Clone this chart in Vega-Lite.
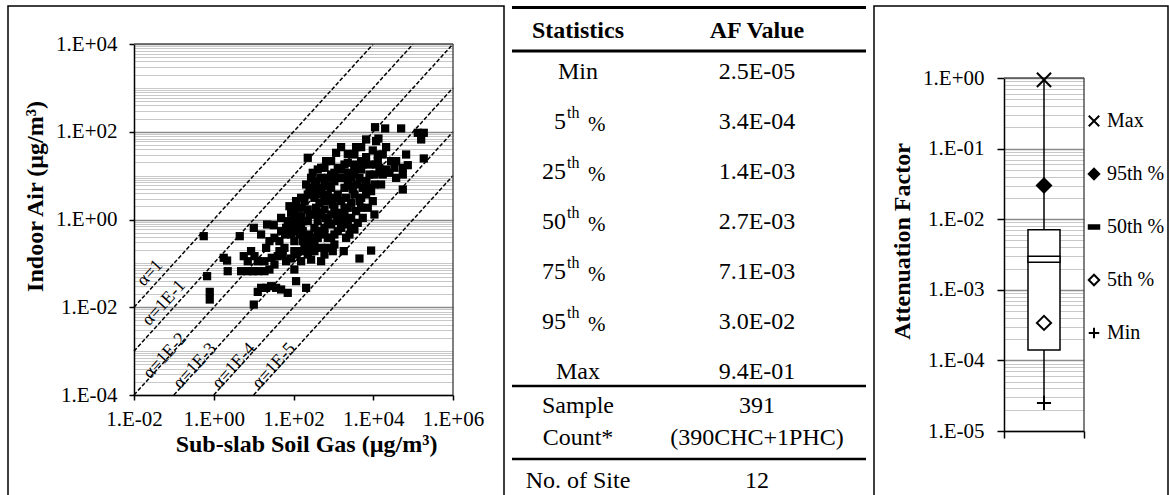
{
  "$schema": "https://vega.github.io/schema/vega-lite/v6.json",
  "padding": {"left": 7, "top": 5, "right": 0, "bottom": 0},
  "autosize": {"type": "pad"},
  "spacing": 5,
  "background": "white",
  "config": {
    "view": {"stroke": null},
    "font": "Liberation Serif",
    "axis": {
      "labelFont": "Liberation Serif", "titleFont": "Liberation Serif",
      "labelColor": "black", "titleColor": "black", "domainColor": "black", "tickColor": "black",
      "labelFontSize": 21, "titleFontSize": 24, "titleFontWeight": "bold",
      "domainWidth": 1.5, "tickWidth": 1.5, "labelOverlap": false, "labelFlush": false
    },
    "legend": {"labelFont": "Liberation Serif", "labelFontSize": 20, "labelColor": "black", "titleFont": "Liberation Serif"},
    "text": {"font": "Liberation Serif", "color": "black"}
  },
  "datasets": {
    "scatter": [
      {"soil":11100,"indoor":127},{"soil":19900,"indoor":119},{"soil":50000,"indoor":119},{"soil":131000,"indoor":94.6},{"soil":185000,"indoor":94.6},{"soil":159000,"indoor":66.7},{"soil":185000,"indoor":24.6},{"soil":13500,"indoor":70.1},{"soil":11800,"indoor":61.1},{"soil":6620,"indoor":66.7},
      {"soil":3720,"indoor":44.6},{"soil":1560,"indoor":44.6},{"soil":2300,"indoor":31.4},{"soil":9730,"indoor":37.4},{"soil":66700,"indoor":30.3},{"soil":73500,"indoor":17.3},{"soil":55100,"indoor":15.1},{"soil":55100,"indoor":10.6},{"soil":34000,"indoor":15.1},{"soil":21000,"indoor":13.8},
      {"soil":17300,"indoor":10.6},{"soil":10700,"indoor":10.6},{"soil":6620,"indoor":26.4},{"soil":4970,"indoor":21.4},{"soil":3370,"indoor":17.9},{"soil":2300,"indoor":19.6},{"soil":1170,"indoor":33.1},{"soil":877,"indoor":21.4},{"soil":597,"indoor":15.1},{"soil":492,"indoor":8.91},
      {"soil":406,"indoor":4.83},{"soil":228,"indoor":25.5},{"soil":207,"indoor":6.28},{"soil":251,"indoor":5.27},{"soil":335,"indoor":3.12},{"soil":448,"indoor":2.4},{"soil":724,"indoor":8.91},{"soil":1060,"indoor":7.48},{"soil":1560,"indoor":8.91},{"soil":1900,"indoor":5.27},
      {"soil":2790,"indoor":5.75},{"soil":4510,"indoor":8.91},{"soil":5460,"indoor":5.27},{"soil":8830,"indoor":4.43},{"soil":9730,"indoor":2.62},{"soil":7290,"indoor":1.85},{"soil":55100,"indoor":4.83},{"soil":10700,"indoor":1.3},{"soil":5460,"indoor":1.09},{"soil":4090,"indoor":0.839},
      {"soil":3370,"indoor":0.592},{"soil":2530,"indoor":0.455},{"soil":1820,"indoor":0.19},{"soil":4510,"indoor":0.129},{"soil":8830,"indoor":0.196},{"soil":2300,"indoor":1.85},{"soil":1560,"indoor":2.62},{"soil":1060,"indoor":3.12},{"soil":724,"indoor":3.72},{"soil":597,"indoor":1.69},
      {"soil":877,"indoor":1.3},{"soil":1290,"indoor":0.916},{"soil":1900,"indoor":0.916},{"soil":1290,"indoor":0.542},{"soil":877,"indoor":0.382},{"soil":597,"indoor":0.646},{"soil":406,"indoor":0.916},{"soil":304,"indoor":1.3},{"soil":228,"indoor":1.69},{"soil":155,"indoor":1.85},
      {"soil":105,"indoor":1.3},{"soil":87.1,"indoor":0.916},{"soil":79.1,"indoor":2.01},{"soil":128,"indoor":0.769},{"soil":171,"indoor":0.542},{"soil":251,"indoor":0.455},{"soil":406,"indoor":0.382},{"soil":492,"indoor":0.226},{"soil":335,"indoor":0.19},{"soil":228,"indoor":0.159},
      {"soil":155,"indoor":0.19},{"soil":105,"indoor":0.321},{"soil":87.1,"indoor":0.455},{"soil":116,"indoor":0.159},{"soil":155,"indoor":0.112},{"soil":276,"indoor":0.122},{"soil":597,"indoor":0.159},{"soil":724,"indoor":0.226},{"soil":1060,"indoor":0.269},{"soil":966,"indoor":0.19},
      {"soil":492,"indoor":0.112},{"soil":105,"indoor":0.0724},{"soil":116,"indoor":0.0393},{"soil":207,"indoor":0.0277},{"soil":71.8,"indoor":0.0213},{"soil":48.9,"indoor":0.0254},{"soil":36.6,"indoor":0.0277},{"soil":27.4,"indoor":0.0302},{"soil":20.6,"indoor":0.0277},{"soil":15.4,"indoor":0.0277},
      {"soil":12.7,"indoor":0.0224},{"soil":10.1,"indoor":0.0115},{"soil":53.8,"indoor":0.159},{"soil":59.3,"indoor":0.226},{"soil":44.4,"indoor":0.321},{"soil":33.3,"indoor":0.382},{"soil":24.9,"indoor":0.321},{"soil":20.6,"indoor":0.226},{"soil":28.5,"indoor":0.134},{"soil":18.7,"indoor":0.112},
      {"soil":12.7,"indoor":0.112},{"soil":10.5,"indoor":0.146},{"soil":8.63,"indoor":0.19},{"soil":7.13,"indoor":0.112},{"soil":5.66,"indoor":0.146},{"soil":4.85,"indoor":0.0664},{"soil":7.13,"indoor":0.0664},{"soil":9.51,"indoor":0.0664},{"soil":12.7,"indoor":0.0664},{"soil":18.7,"indoor":0.0664},
      {"soil":24.9,"indoor":0.0724},{"soil":33.3,"indoor":0.0942},{"soil":40.3,"indoor":0.146},{"soil":15.4,"indoor":0.455},{"soil":21.8,"indoor":0.769},{"soil":32,"indoor":0.743},{"soil":10.1,"indoor":0.646},{"soil":4.49,"indoor":0.417},{"soil":2.24,"indoor":0.0664},{"soil":1.78,"indoor":0.134},
      {"soil":2.16,"indoor":0.116},{"soil":0.794,"indoor":0.015},{"soil":0.794,"indoor":0.0224},{"soil":0.681,"indoor":0.0511},{"soil":0.561,"indoor":0.417},{"soil":116,"indoor":0.916},{"soil":87.1,"indoor":1.42},{"soil":188,"indoor":2.62},{"soil":276,"indoor":3.72},{"soil":335,"indoor":7.48},
      {"soil":492,"indoor":5.27},{"soil":724,"indoor":5.75},{"soil":1060,"indoor":11.6},{"soil":1560,"indoor":13.8},{"soil":2300,"indoor":11.6},{"soil":3370,"indoor":10.6},{"soil":4970,"indoor":13.8},{"soil":8040,"indoor":17.9},{"soil":13000,"indoor":21.4},{"soil":17300,"indoor":30.3},
      {"soil":28100,"indoor":21.4},{"soil":37500,"indoor":8.91},{"soil":15700,"indoor":6.28},{"soil":10700,"indoor":6.28},{"soil":3370,"indoor":3.72},{"soil":4970,"indoor":3.12},{"soil":2790,"indoor":2.4},{"soil":1900,"indoor":1.85},{"soil":3720,"indoor":1.55},{"soil":724,"indoor":0.916},
      {"soil":335,"indoor":0.646},{"soil":228,"indoor":0.916},{"soil":492,"indoor":1.3},{"soil":2790,"indoor":1.09},{"soil":2300,"indoor":0.769},{"soil":1420,"indoor":1.42},{"soil":966,"indoor":2.2},{"soil":597,"indoor":2.62},{"soil":369,"indoor":1.85},{"soil":251,"indoor":0.321},
      {"soil":105,"indoor":0.542},{"soil":87.1,"indoor":0.646},{"soil":61.5,"indoor":0.455},{"soil":48.9,"indoor":0.542},{"soil":1290,"indoor":3.72},{"soil":1900,"indoor":17.9},{"soil":877,"indoor":5.27},{"soil":155,"indoor":1.19},{"soil":406,"indoor":13.8},{"soil":304,"indoor":11.6},
      {"soil":276,"indoor":8.91},{"soil":369,"indoor":6.28},{"soil":597,"indoor":7.48},{"soil":877,"indoor":10.6},{"soil":1290,"indoor":15.1},{"soil":1900,"indoor":8.91},{"soil":2790,"indoor":8.91},{"soil":4090,"indoor":6.28},{"soil":6620,"indoor":7.48},{"soil":8040,"indoor":10.6},
      {"soil":5460,"indoor":17.9},{"soil":3370,"indoor":30.3},{"soil":4970,"indoor":44.6},{"soil":13000,"indoor":30.3},{"soil":21000,"indoor":44.6},{"soil":14300,"indoor":15.1},{"soil":492,"indoor":3.72},{"soil":335,"indoor":4.43},{"soil":228,"indoor":3.72},{"soil":155,"indoor":3.12},
      {"soil":116,"indoor":2.62},{"soil":105,"indoor":1.85},{"soil":171,"indoor":0.916},{"soil":251,"indoor":1.3},{"soil":406,"indoor":1.42},{"soil":658,"indoor":1.09},{"soil":1060,"indoor":1.85},{"soil":1560,"indoor":1.3},{"soil":2090,"indoor":3.12},{"soil":3070,"indoor":4.83},
      {"soil":4510,"indoor":2.62},{"soil":6620,"indoor":3.72},{"soil":4970,"indoor":1.85},{"soil":7290,"indoor":5.27},{"soil":877,"indoor":0.769},{"soil":597,"indoor":0.455},{"soil":406,"indoor":0.542},{"soil":335,"indoor":0.382},{"soil":207,"indoor":0.382},{"soil":141,"indoor":0.455},
      {"soil":171,"indoor":0.321},{"soil":228,"indoor":0.226},{"soil":335,"indoor":0.269},{"soil":724,"indoor":0.382},{"soil":1060,"indoor":0.455},{"soil":1560,"indoor":0.646},{"soil":1290,"indoor":1.3},{"soil":1900,"indoor":1.3},{"soil":2790,"indoor":0.646},{"soil":2090,"indoor":0.382},
      {"soil":71.8,"indoor":0.916},{"soil":65.2,"indoor":0.646},{"soil":48.9,"indoor":1.09},{"soil":155,"indoor":0.646},{"soil":188,"indoor":0.226},{"soil":105,"indoor":0.19},{"soil":87.1,"indoor":0.129},{"soil":65.2,"indoor":0.112},{"soil":44.4,"indoor":0.19},{"soil":877,"indoor":2.62},
      {"soil":492,"indoor":15.1},{"soil":658,"indoor":21.4},{"soil":1290,"indoor":8.91},{"soil":2300,"indoor":7.48},{"soil":3370,"indoor":13.8},{"soil":11800,"indoor":17.9},{"soil":15700,"indoor":11.6},{"soil":25500,"indoor":11.6},{"soil":37500,"indoor":21.4}
    ],
    "alines": [
      {"alpha":"1","soil":0.01,"indoor":0.01},{"alpha":"1","soil":10000,"indoor":10000},
      {"alpha":"1E-1","soil":0.01,"indoor":0.001},{"alpha":"1E-1","soil":100000,"indoor":10000},
      {"alpha":"1E-2","soil":0.01,"indoor":0.0001},{"alpha":"1E-2","soil":1000000,"indoor":10000},
      {"alpha":"1E-3","soil":0.1,"indoor":0.0001},{"alpha":"1E-3","soil":1000000,"indoor":1000},
      {"alpha":"1E-4","soil":1,"indoor":0.0001},{"alpha":"1E-4","soil":1000000,"indoor":100},
      {"alpha":"1E-5","soil":10,"indoor":0.0001},{"alpha":"1E-5","soil":1000000,"indoor":10}
    ],
    "alabels": [
      {"label":"α=1","soil":0.0252,"indoor":0.0604},
      {"label":"α=1E-1","soil":0.0565,"indoor":0.0125},
      {"label":"α=1E-2","soil":0.0598,"indoor":0.000774},
      {"label":"α=1E-3","soil":0.339,"indoor":0.000458},
      {"label":"α=1E-4","soil":3.22,"indoor":0.000458},
      {"label":"α=1E-5","soil":32.4,"indoor":0.000458}
    ],
    "table": [
      {"row":"Statistics","kind":"head","stat":"Statistics","value":"AF Value"},
      {"row":"Min","kind":"plain","stat":"Min","value":"2.5E-05"},
      {"row":"5th","kind":"pct","num":"5","value":"3.4E-04"},
      {"row":"25th","kind":"pct","num":"25","value":"1.4E-03"},
      {"row":"50th","kind":"pct","num":"50","value":"2.7E-03"},
      {"row":"75th","kind":"pct","num":"75","value":"7.1E-03"},
      {"row":"95th","kind":"pct","num":"95","value":"3.0E-02"},
      {"row":"Max","kind":"plain","stat":"Max","value":"9.4E-01"},
      {"row":"Sample Count*","kind":"count","stat":"Sample\nCount*","value":"391\n(390CHC+1PHC)"},
      {"row":"No. of Site","kind":"site","stat":"No. of Site","value":"12"}
    ],
    "box": [{"min":0.000025,"q1":0.00014,"median":0.0027,"q3":0.0071,"max":0.94}],
    "markers": [
      {"stat":"Max","af":0.94},{"stat":"95th %","af":0.03},{"stat":"5th %","af":0.00034},{"stat":"Min","af":0.000025}
    ]
  },
  "hconcat": [
    {
      "width": 496, "height": 496,
      "view": {"stroke": "black", "strokeWidth": 1.5},
      "layer": [
        {
          "data": {"name": "scatter"},
          "mark": {"type": "square", "size": 68, "color": "black", "opacity": 1},
          "encoding": {
            "x": {"field": "soil", "type": "quantitative",
              "scale": {"type": "log", "domain": [0.01, 1000000], "range": [126, 445], "nice": false},
              "axis": {"values": [0.01, 1, 100, 10000, 1000000], "grid": false, "offset": -107, "tickSize": 5, "labelPadding": 8,
                "labelExpr": "'1.E' + (datum.value < 1 ? '-0' : '+0') + abs(round(log(datum.value)/LN10))",
                "title": "Sub-slab Soil Gas (µg/m³)", "titleX": 298, "titlePadding": 3}},
            "y": {"field": "indoor", "type": "quantitative",
              "scale": {"type": "log", "domain": [0.0001, 10000], "range": [389, 38], "nice": false},
              "axis": {"values": [0.0001,0.0002,0.0003,0.0004,0.0005,0.0006,0.0007,0.0008,0.0009,0.001,0.002,0.003,0.004,0.005,0.006,0.007,0.008,0.009,0.01,0.02,0.03,0.04,0.05,0.06,0.07,0.08,0.09,0.1,0.2,0.3,0.4,0.5,0.6,0.7,0.8,0.9,1,2,3,4,5,6,7,8,9,10,20,30,40,50,60,70,80,90,100,200,300,400,500,600,700,800,900,1000,2000,3000,4000,5000,6000,7000,8000,9000,10000],
                "offset": -126, "grid": true, "tickSize": 5, "labelPadding": 12,
                "gridColor": {"condition": {"test": "abs(log(datum.value)/LN10/2 - round(log(datum.value)/LN10/2)) < 0.001", "value": "#8c8c8c"}, "value": "#c8c8c8"},
                "gridWidth": {"condition": {"test": "abs(log(datum.value)/LN10/2 - round(log(datum.value)/LN10/2)) < 0.001", "value": 1.5}, "value": 1},
                "tickColor": {"condition": {"test": "abs(log(datum.value)/LN10/2 - round(log(datum.value)/LN10/2)) < 0.001", "value": "black"}, "value": "transparent"},
                "labelExpr": "abs(log(datum.value)/LN10/2 - round(log(datum.value)/LN10/2)) < 0.001 ? '1.E' + (datum.value < 1 ? '-0' : '+0') + abs(round(log(datum.value)/LN10)) : ''",
                "title": "Indoor Air (µg/m³)", "titleY": 190, "titlePadding": 8}}
          }
        },
        {
          "data": {"name": "alines"},
          "mark": {"type": "line", "color": "black", "strokeWidth": 1.5, "strokeDash": [4, 2]},
          "encoding": {
            "x": {"field": "soil", "type": "quantitative"},
            "y": {"field": "indoor", "type": "quantitative"},
            "detail": {"field": "alpha", "type": "nominal"}
          }
        },
        {
          "data": {"name": "alabels"},
          "mark": {"type": "text", "angle": -47.7, "fontSize": 18, "align": "center", "baseline": "middle"},
          "encoding": {
            "x": {"field": "soil", "type": "quantitative"},
            "y": {"field": "indoor", "type": "quantitative"},
            "text": {"field": "label"}
          }
        },
        {
          "data": {"values": [{}]},
          "mark": {"type": "rule", "color": "#555555", "strokeWidth": 1.5},
          "encoding": {"x": {"datum": 1000000}, "y": {"datum": 0.0001}, "y2": {"datum": 10000}}
        },
        {
          "data": {"values": [{}]},
          "mark": {"type": "rule", "color": "#555555", "strokeWidth": 1.5},
          "encoding": {"x": {"datum": 0.01}, "x2": {"datum": 1000000}, "y": {"datum": 10000}}
        }
      ]
    },
    {
      "width": 354, "height": 490,
      "data": {"name": "table"},
      "encoding": {
        "y": {"field": "row", "type": "nominal",
          "scale": {"type": "band", "domain": ["Statistics","Min","5th","25th","50th","75th","95th","Max","Sample Count*","No. of Site"], "range": [-9.4, 491.4], "paddingInner": 0, "paddingOuter": 0},
          "axis": null}
      },
      "layer": [
        {
          "transform": [{"filter": "datum.row == 'Statistics'"}],
          "mark": {"type": "text", "fontWeight": "bold", "fontSize": 24, "dy": 9},
          "encoding": {
            "x": {"datum": "s", "type": "nominal", "scale": {"type": "point", "domain": ["s", "v"], "range": [66, 245], "padding": 0}, "axis": null},
            "text": {"field": "stat"}
          }
        },
        {
          "transform": [{"filter": "datum.row == 'Statistics'"}],
          "mark": {"type": "text", "fontWeight": "bold", "fontSize": 24, "dy": 9},
          "encoding": {"x": {"datum": "v", "type": "nominal"}, "text": {"field": "value"}}
        },
        {
          "transform": [{"filter": "datum.kind == 'plain'"}],
          "mark": {"type": "text", "fontSize": 24},
          "encoding": {"x": {"datum": "s", "type": "nominal"}, "text": {"field": "stat"}}
        },
        {
          "transform": [{"filter": "datum.kind == 'plain' || datum.kind == 'pct'"}],
          "mark": {"type": "text", "fontSize": 24},
          "encoding": {"x": {"datum": "v", "type": "nominal"}, "text": {"field": "value"}}
        },
        {
          "transform": [{"filter": "datum.kind == 'count'"}],
          "mark": {"type": "text", "fontSize": 24, "lineBreak": "\n", "lineHeight": 32, "dy": -16},
          "encoding": {"x": {"datum": "s", "type": "nominal"}, "text": {"field": "stat"}}
        },
        {
          "transform": [{"filter": "datum.kind == 'count'"}],
          "mark": {"type": "text", "fontSize": 24, "lineBreak": "\n", "lineHeight": 32, "dy": -16},
          "encoding": {"x": {"datum": "v", "type": "nominal"}, "text": {"field": "value"}}
        },
        {
          "transform": [{"filter": "datum.kind == 'site'"}],
          "mark": {"type": "text", "fontSize": 24, "dy": 9},
          "encoding": {"x": {"datum": "s", "type": "nominal"}, "text": {"field": "stat"}}
        },
        {
          "transform": [{"filter": "datum.kind == 'site'"}],
          "mark": {"type": "text", "fontSize": 24, "dy": 9},
          "encoding": {"x": {"datum": "v", "type": "nominal"}, "text": {"field": "value"}}
        },
        {
          "transform": [{"filter": "datum.kind == 'pct'"}],
          "mark": {"type": "text", "fontSize": 24, "align": "right", "dx": -12},
          "encoding": {"x": {"datum": "s", "type": "nominal"}, "text": {"field": "num"}}
        },
        {
          "transform": [{"filter": "datum.kind == 'pct'"}],
          "mark": {"type": "text", "fontSize": 16, "align": "left", "dx": -11, "dy": -9},
          "encoding": {"x": {"datum": "s", "type": "nominal"}, "text": {"value": "th"}}
        },
        {
          "transform": [{"filter": "datum.kind == 'pct'"}],
          "mark": {"type": "text", "fontSize": 21, "align": "left", "dx": 10, "dy": 3},
          "encoding": {"x": {"datum": "s", "type": "nominal"}, "text": {"value": "%"}}
        },
        {
          "transform": [{"filter": "datum.row == 'Statistics'"}],
          "mark": {"type": "rule", "color": "black", "strokeWidth": 3},
          "encoding": {"y": {"field": "row", "type": "nominal", "bandPosition": 0.22}}
        },
        {
          "transform": [{"filter": "datum.row == 'Min'"}],
          "mark": {"type": "rule", "color": "black", "strokeWidth": 3},
          "encoding": {"y": {"field": "row", "type": "nominal", "bandPosition": 0.086}}
        },
        {
          "transform": [{"filter": "datum.row == 'Max'"}],
          "mark": {"type": "rule", "color": "black", "strokeWidth": 2.5},
          "encoding": {"y": {"field": "row", "type": "nominal", "bandPosition": 0.775}}
        },
        {
          "transform": [{"filter": "datum.row == 'No. of Site'"}],
          "mark": {"type": "rule", "color": "black", "strokeWidth": 2.5},
          "encoding": {"y": {"field": "row", "type": "nominal", "bandPosition": 0.234}}
        }
      ]
    },
    {
      "width": 294, "height": 496,
      "view": {"stroke": "black", "strokeWidth": 1.5},
      "layer": [
        {
          "data": {"name": "box"},
          "mark": {"type": "rule", "color": "black", "strokeWidth": 1.5},
          "encoding": {
            "x": {"datum": 0.5, "type": "quantitative",
              "scale": {"domain": [0, 1], "range": [130, 210], "nice": false, "zero": false},
              "axis": {"values": [0, 1], "labels": false, "grid": false, "tickSize": 7, "offset": -71, "title": null}},
            "y": {"field": "min", "type": "quantitative",
              "scale": {"type": "log", "domain": [0.00001, 1], "range": [425, 72], "nice": false},
              "axis": {"values": [0.00001,0.00002,0.00003,0.00004,0.00005,0.00006,0.00007,0.00008,0.00009,0.0001,0.0002,0.0003,0.0004,0.0005,0.0006,0.0007,0.0008,0.0009,0.001,0.002,0.003,0.004,0.005,0.006,0.007,0.008,0.009,0.01,0.02,0.03,0.04,0.05,0.06,0.07,0.08,0.09,0.1,0.2,0.3,0.4,0.5,0.6,0.7,0.8,0.9,1],
                "offset": -130, "grid": true, "tickSize": 7, "labelPadding": 13,
                "gridColor": {"condition": {"test": "abs(log(datum.value)/LN10 - round(log(datum.value)/LN10)) < 0.001", "value": "#8c8c8c"}, "value": "#c8c8c8"},
                "gridWidth": {"condition": {"test": "abs(log(datum.value)/LN10 - round(log(datum.value)/LN10)) < 0.001", "value": 1.5}, "value": 1},
                "tickColor": {"condition": {"test": "abs(log(datum.value)/LN10 - round(log(datum.value)/LN10)) < 0.001", "value": "black"}, "value": "transparent"},
                "labelExpr": "abs(log(datum.value)/LN10 - round(log(datum.value)/LN10)) < 0.001 ? '1.E' + (datum.value < 1 ? '-0' : '+0') + abs(round(log(datum.value)/LN10)) : ''",
                "title": "Attenuation Factor", "titleY": 235, "titlePadding": 8}},
            "y2": {"field": "max"}
          }
        },
        {
          "data": {"values": [{}]},
          "mark": {"type": "rule", "color": "#555555", "strokeWidth": 1.5},
          "encoding": {"x": {"datum": 1}, "y": {"datum": 0.00001}, "y2": {"datum": 1}}
        },
        {
          "data": {"values": [{}]},
          "mark": {"type": "rule", "color": "#555555", "strokeWidth": 1.5},
          "encoding": {"x": {"datum": 0}, "x2": {"datum": 1}, "y": {"datum": 1}}
        },
        {
          "data": {"name": "box"},
          "mark": {"type": "rect", "fill": "white", "stroke": "black", "strokeWidth": 1.5},
          "encoding": {"x": {"datum": 0.3}, "x2": {"datum": 0.7}, "y": {"field": "q1", "type": "quantitative"}, "y2": {"field": "q3"}}
        },
        {
          "data": {"name": "box"},
          "mark": {"type": "tick", "orient": "horizontal", "size": 32, "thickness": 6, "fill": "white", "stroke": "black", "strokeWidth": 1.5, "opacity": 1},
          "encoding": {"x": {"datum": 0.5}, "y": {"field": "median", "type": "quantitative"}}
        },
        {
          "data": {"name": "markers"},
          "mark": {"type": "point", "size": 200, "stroke": "black", "strokeWidth": 2, "opacity": 1},
          "encoding": {
            "x": {"datum": 0.5},
            "y": {"field": "af", "type": "quantitative"},
            "shape": {"field": "stat", "type": "nominal",
              "scale": {"domain": ["Max", "95th %", "50th %", "5th %", "Min"], "range": ["M-1,-1L1,1M-1,1L1,-1", "diamond", "M-1,-0.35H1V0.35H-1Z", "diamond", "M-1,0H1M0,-1V1"]},
              "legend": {"title": null, "orient": "none", "legendX": 1076, "legendY": 105, "labelFontSize": 20, "labelFont": "Liberation Serif", "labelColor": "black", "symbolSize": 110, "symbolStrokeWidth": 2, "symbolStrokeColor": "black", "symbolOpacity": 1, "rowPadding": 33, "labelOffset": 3, "padding": 0,
                "encode": {"symbols": {"update": {"stroke": {"value": "black"}, "strokeWidth": {"value": 2}, "opacity": {"value": 1}}}, "labels": {"update": {"font": {"value": "Liberation Serif"}, "fontSize": {"value": 20}}}}}},
            "fill": {"field": "stat", "type": "nominal",
              "scale": {"domain": ["Max", "95th %", "50th %", "5th %", "Min"], "range": ["black", "black", "black", "white", "black"]},
              "legend": {"title": null, "orient": "none", "legendX": 1076, "legendY": 105, "labelFontSize": 20, "labelFont": "Liberation Serif", "labelColor": "black", "symbolSize": 110, "symbolStrokeWidth": 2, "symbolStrokeColor": "black", "symbolOpacity": 1, "rowPadding": 33, "labelOffset": 3, "padding": 0,
                "encode": {"symbols": {"update": {"stroke": {"value": "black"}, "strokeWidth": {"value": 2}, "opacity": {"value": 1}}}, "labels": {"update": {"font": {"value": "Liberation Serif"}, "fontSize": {"value": 20}}}}}}
          }
        }
      ]
    }
  ]
}
